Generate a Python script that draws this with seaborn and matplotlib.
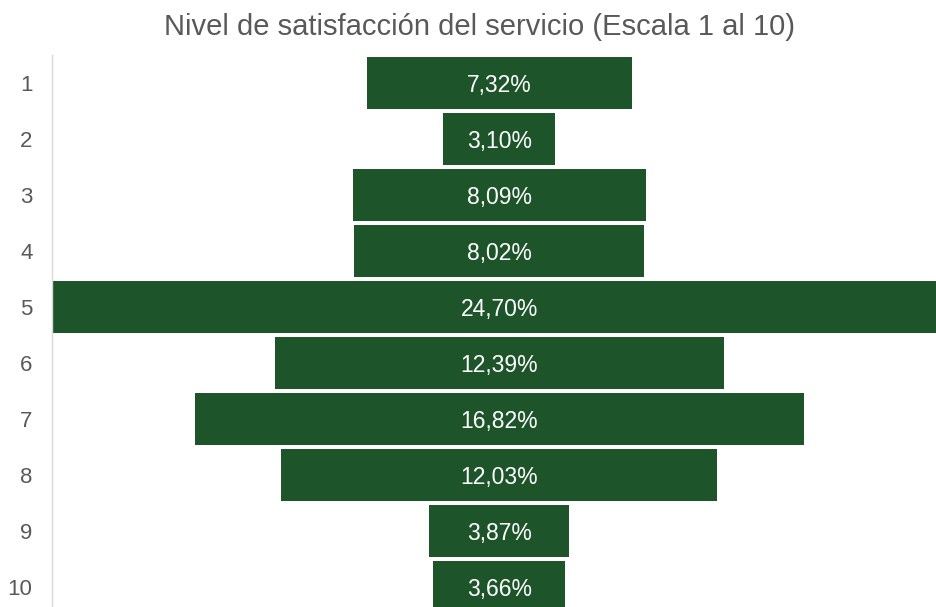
import matplotlib
matplotlib.use("Agg")
import matplotlib.pyplot as plt
import seaborn as sns
import pandas as pd

levels = ["1", "2", "3", "4", "5", "6", "7", "8", "9", "10"]
shares = [7.32, 3.10, 8.09, 8.02, 24.70, 12.39, 16.82, 12.03, 3.87, 3.66]

title = "Nivel de satisfacción del servicio (Escala 1 al 10)"
bar_color = "#1d5429"
text_gray = "#595959"

sns.set_theme(style="white")
plt.rcParams["font.family"] = ["Liberation Sans", "DejaVu Sans"]

df = pd.DataFrame({"nivel": levels, "share": shares})
df["right"] = df["share"] / 2
df["left"] = -df["share"] / 2

W, H = 937, 607
fig = plt.figure(figsize=(W / 100, H / 100), dpi=100)
ax = fig.add_axes([52 / W, (H - 615) / H, (937 - 52) / W, 560 / H])

# funnel: each bar drawn as two halves around zero
for col in ["right", "left"]:
    sns.barplot(data=df, x=col, y="nivel", order=levels, orient="h",
                color=bar_color, width=0.92, linewidth=0, saturation=1, ax=ax)

# the widest bar is cut off on the right in the original
ax.set_xlim(-max(shares) / 2, 12.09)
ax.set_ylim(len(levels) - 0.5, -0.5)

for i, v in enumerate(shares):
    ax.text(0, i, f"{v:.2f}%".replace(".", ","), ha="center",
            va="center_baseline", color="white", fontsize=16.5)

ax.set_xlabel("")
ax.set_ylabel("")
ax.set_xticks([])
ax.tick_params(axis="y", length=0, labelsize=16, labelcolor=text_gray, pad=14)
for side in ["top", "right", "bottom"]:
    ax.spines[side].set_visible(False)
ax.spines["left"].set_color("#d9d9d9")
ax.spines["left"].set_linewidth(1)

fig.text(480 / W, 1 - 27 / H, title, ha="center", va="center",
         fontsize=21, color=text_gray)

fig.savefig("out.png", dpi=100)
